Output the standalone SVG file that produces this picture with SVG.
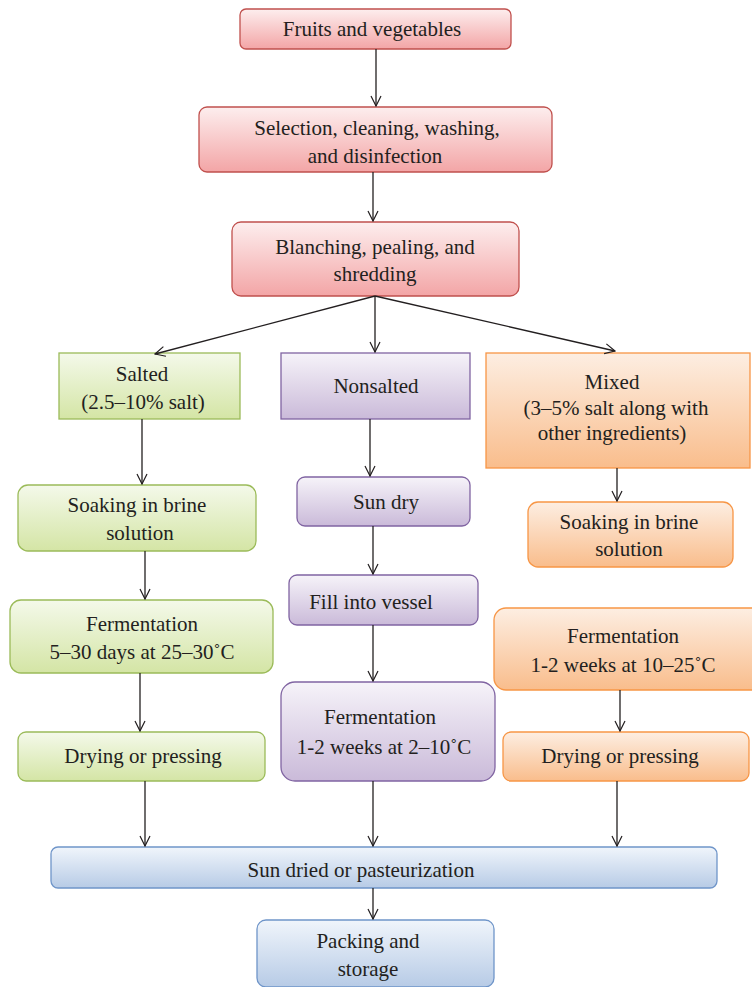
<svg xmlns="http://www.w3.org/2000/svg" width="752" height="987" viewBox="0 0 752 987">
<defs>
<linearGradient id="gRed" x1="0" y1="0" x2="0" y2="1"><stop offset="0" stop-color="#fdeeee"/><stop offset="1" stop-color="#f3a5a6"/></linearGradient>
<linearGradient id="gGreen" x1="0" y1="0" x2="0" y2="1"><stop offset="0" stop-color="#f4f9ea"/><stop offset="1" stop-color="#d4e5a5"/></linearGradient>
<linearGradient id="gPurple" x1="0" y1="0" x2="0" y2="1"><stop offset="0" stop-color="#f6f3f9"/><stop offset="1" stop-color="#cabad9"/></linearGradient>
<linearGradient id="gOrange" x1="0" y1="0" x2="0" y2="1"><stop offset="0" stop-color="#fdeee2"/><stop offset="1" stop-color="#f9bd8c"/></linearGradient>
<linearGradient id="gBlue" x1="0" y1="0" x2="0" y2="1"><stop offset="0" stop-color="#f0f5fb"/><stop offset="1" stop-color="#b7cbe6"/></linearGradient>
<marker id="arr" viewBox="0 0 12 12" refX="11" refY="6" markerWidth="12" markerHeight="12" markerUnits="userSpaceOnUse" orient="auto">
<polyline points="1,1 11,6 1,11" fill="none" stroke="#231f20" stroke-width="1.2"/>
</marker>
<style>
.red{fill:url(#gRed);stroke:#c0504d;stroke-width:1.3}
.green{fill:url(#gGreen);stroke:#9bbb59;stroke-width:1.3}
.purple{fill:url(#gPurple);stroke:#8064a2;stroke-width:1.3}
.orange{fill:url(#gOrange);stroke:#f79646;stroke-width:1.3}
.blue{fill:url(#gBlue);stroke:#6f95c9;stroke-width:1.3}
text{font-family:"Liberation Serif","Times New Roman",serif;font-size:21px;fill:#231f20;text-anchor:middle}
.c line{stroke:#231f20;stroke-width:1.3;marker-end:url(#arr)}
</style>
</defs>
<rect width="752" height="987" fill="#ffffff"/>

<g id="n1"><rect class="red" x="240" y="9" width="271" height="40" rx="6"/><text x="372" y="36">Fruits and vegetables</text></g>
<g id="n2"><rect class="red" x="199" y="107" width="353" height="65" rx="8"/><text x="377" y="135">Selection, cleaning, washing,</text><text x="375" y="163">and disinfection</text></g>
<g id="n3"><rect class="red" x="232" y="222" width="287" height="74" rx="9"/><text x="375" y="254">Blanching, pealing, and</text><text x="375" y="281">shredding</text></g>

<g id="n4"><rect class="green" x="59" y="353" width="181" height="66"/><text x="142" y="381">Salted</text><text x="143" y="409">(2.5–10% salt)</text></g>
<g id="n5"><rect class="green" x="18" y="485" width="238" height="66" rx="10"/><text x="137" y="512">Soaking in brine</text><text x="140" y="540">solution</text></g>
<g id="n6"><rect class="green" x="10" y="600" width="263" height="73" rx="11"/><text x="142" y="631">Fermentation</text><text x="142" y="659">5–30 days at 25–30˚C</text></g>
<g id="n7"><rect class="green" x="18" y="732" width="247" height="49" rx="8"/><text x="143" y="763">Drying or pressing</text></g>

<g id="n8"><rect class="purple" x="281" y="353" width="189" height="66"/><text x="376" y="393">Nonsalted</text></g>
<g id="n9"><rect class="purple" x="297" y="477" width="173" height="49" rx="8"/><text x="386" y="509">Sun dry</text></g>
<g id="n10"><rect class="purple" x="289" y="575" width="189" height="50" rx="8"/><text x="371" y="609">Fill into vessel</text></g>
<g id="n11"><rect class="purple" x="281" y="682" width="214" height="99" rx="14"/><text x="380" y="724">Fermentation</text><text x="384" y="754">1-2 weeks at 2–10˚C</text></g>

<g id="n12"><rect class="orange" x="486" y="353" width="264" height="115"/><text x="612" y="389">Mixed</text><text x="616" y="415">(3–5% salt along with</text><text x="612" y="440">other ingredients)</text></g>
<g id="n13"><rect class="orange" x="528" y="502" width="205" height="65" rx="10"/><text x="629" y="529">Soaking in brine</text><text x="629" y="556">solution</text></g>
<g id="n14"><rect class="orange" x="494" y="608" width="270" height="82" rx="12"/><text x="623" y="643">Fermentation</text><text x="623" y="672">1-2 weeks at 10–25˚C</text></g>
<g id="n15"><rect class="orange" x="503" y="732" width="246" height="49" rx="8"/><text x="620" y="763">Drying or pressing</text></g>

<g id="n16"><rect class="blue" x="51" y="847" width="666" height="41" rx="7"/><text x="361" y="877">Sun dried or pasteurization</text></g>
<g id="n17"><rect class="blue" x="257" y="920" width="237" height="67" rx="9"/><text x="368" y="948">Packing and</text><text x="368" y="976">storage</text></g>

<g id="connectors" class="c">
<line x1="376" y1="49" x2="376" y2="106"/>
<line x1="373" y1="172" x2="373" y2="221"/>
<line x1="375" y1="296" x2="155" y2="354"/>
<line x1="375" y1="296" x2="375" y2="352"/>
<line x1="375" y1="296" x2="615" y2="351"/>
<line x1="142" y1="419" x2="142" y2="484"/>
<line x1="145" y1="551" x2="145" y2="599"/>
<line x1="140" y1="673" x2="140" y2="731"/>
<line x1="145" y1="781" x2="145" y2="846"/>
<line x1="370" y1="419" x2="370" y2="476"/>
<line x1="373" y1="526" x2="373" y2="574"/>
<line x1="373" y1="625" x2="373" y2="681"/>
<line x1="373" y1="781" x2="373" y2="846"/>
<line x1="617" y1="468" x2="617" y2="501"/>
<line x1="620" y1="690" x2="620" y2="731"/>
<line x1="617" y1="781" x2="617" y2="846"/>
<line x1="373" y1="888" x2="373" y2="919"/>
</g>
</svg>
